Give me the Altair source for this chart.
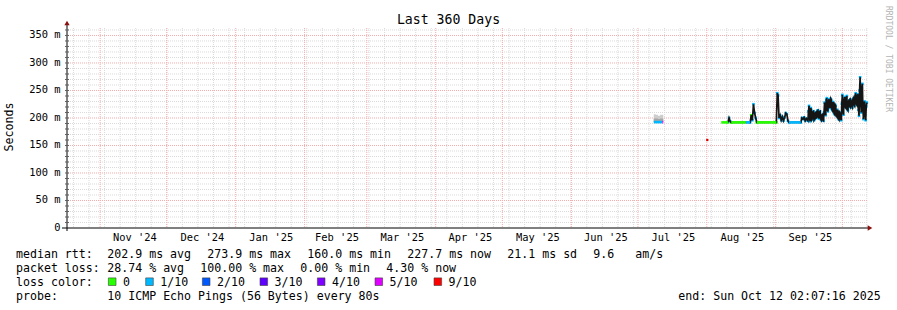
import altair as alt
import pandas as pd

FONT = "DejaVu Sans Mono"

# ---------------- data ----------------
t_start = "2024-10-17 02:07:16"
t_end = "2025-10-12 02:07:16"

month_starts = ["2024-11-01", "2024-12-01", "2025-01-01", "2025-02-01", "2025-03-01", "2025-04-01",
                "2025-05-01", "2025-06-01", "2025-07-01", "2025-08-01", "2025-09-01", "2025-10-01"]
month_labels = ["Nov '24", "Dec '24", "Jan '25", "Feb '25", "Mar '25", "Apr '25",
                "May '25", "Jun '25", "Jul '25", "Aug '25", "Sep '25"]
month_label_at = ["2024-11-16 14:00", "2024-12-17 00:00", "2025-01-17 00:00", "2025-02-15 14:00",
                  "2025-03-17 00:00", "2025-04-16 14:00", "2025-05-17 00:00", "2025-06-16 14:00",
                  "2025-07-17 00:00", "2025-08-17 00:00", "2025-09-16 14:00"]

ytick_values = [0, 50, 100, 150, 200, 250, 300, 350]
ytick_labels = ["0", "50 m", "100 m", "150 m", "200 m", "250 m", "300 m", "350 m"]

loss_names = ["0", "1/10", "2/10", "3/10", "4/10", "5/10", "9/10"]
loss_colors = ["#26ff00", "#00b8ff", "#0059ff", "#5e00ff", "#7e00ff", "#dd00ff", "#ff0000"]

# smoke (first cluster, early July)
smoke_time = ["2025-07-08 03:00", "2025-07-09 00:00", "2025-07-10 00:00", "2025-07-11 00:00", "2025-07-12 10:00"]
smoke_low = [192.5, 192.5, 192.5, 192.5, 192.5]
smoke_mid = [199, 199, 198, 199, 198]
smoke_high = [207, 206, 204, 206, 205]

# flat median segments (ms) with loss colour
flat_start = ["2025-07-08 03:00", "2025-07-12 00:00", "2025-08-07 12:00", "2025-08-12 00:00",
              "2025-08-18 14:00", "2025-08-23 12:00", "2025-09-07 00:00"]
flat_end = ["2025-07-12 00:00", "2025-07-12 10:00", "2025-08-10 12:00", "2025-08-18 14:00",
            "2025-08-20 12:00", "2025-09-01 07:00", "2025-09-12 07:00"]
flat_value = [192.5, 192.5, 192, 192, 192, 192, 192]
flat_loss = ["1/10", "5/10", "0", "0", "1/10", "0", "1/10"]

# median rtt samples (ms) with loss — sparse part (August / early September)
early_time = [
    "2025-08-10 12:00", "2025-08-11 00:00", "2025-08-11 12:00", "2025-08-12 00:00",
    "2025-08-20 12:00", "2025-08-21 00:00", "2025-08-21 12:00", "2025-08-22 00:00",
    "2025-08-22 12:00", "2025-08-23 00:00", "2025-08-23 12:00",
    "2025-09-01 07:00", "2025-09-01 17:00", "2025-09-02 02:00", "2025-09-02 12:00",
    "2025-09-03 00:00", "2025-09-03 12:00", "2025-09-04 00:00", "2025-09-04 12:00",
    "2025-09-05 00:00", "2025-09-05 12:00", "2025-09-06 00:00", "2025-09-06 12:00",
    "2025-09-07 00:00",
    "2025-09-12 07:00", "2025-09-12 19:00", "2025-09-13 07:00", "2025-09-13 19:00",
    "2025-09-14 07:00", "2025-09-14 19:00",
]
early_value = [
    192, 200, 194, 192,
    192, 205, 196, 225, 209, 200, 192,
    192, 245, 241, 200, 205, 196, 202, 195, 201, 209, 207, 195, 192,
    192, 200, 198, 201, 195, 199,
]
early_loss = (["0", "1/10", "1/10", "0"]
              + ["1/10", "0", "1/10", "1/10", "1/10", "1/10", "0"]
              + ["0"] + ["1/10"] * 12
              + ["1/10"] * 6)

# dense part: 6-hourly samples from 2025-09-15 12:00 to 2025-10-12 00:00
dense_first, dense_last = "2025-09-15 12:00", "2025-10-12 00:00"
dense_value = [
    195, 212,                 # Sep 15
    222, 199, 194, 218,       # Sep 16
    215, 197, 199, 211,       # Sep 17
    212, 196, 198, 209,       # Sep 18
    210, 200, 201, 213,       # Sep 19
    214, 202, 199, 211,       # Sep 20
    212, 198, 196, 205,       # Sep 21
    206, 196, 195, 210,       # Sep 22
    228, 207, 205, 233,       # Sep 23
    236, 215, 212, 230,       # Sep 24
    234, 221, 218, 235,       # Sep 25
    233, 216, 214, 229,       # Sep 26
    226, 209, 207, 224,       # Sep 27
    222, 205, 203, 215,       # Sep 28
    212, 199, 197, 210,       # Sep 29
    208, 198, 196, 226,       # Sep 30
    242, 212, 206, 232,       # Oct 1
    238, 221, 219, 237,       # Oct 2
    240, 216, 214, 230,       # Oct 3
    232, 222, 220, 233,       # Oct 4
    231, 221, 219, 234,       # Oct 5
    236, 224, 222, 240,       # Oct 6
    245, 226, 224, 241,       # Oct 7
    243, 215, 204, 250,       # Oct 8
    274, 230, 210, 255,       # Oct 9
    262, 215, 198, 224,       # Oct 10
    230, 205, 196, 221,       # Oct 11
    228,                      # Oct 12
]
dense_loss = ["1/10"] * len(dense_value)

# lone heavy-loss sample
red_time = ["2025-08-01 05:00"]
red_value = [160]

legend_line1 = [(16, "median rtt:"), (107.3, "202.9 ms avg"), (207.3, "273.9 ms max"),
                (307.3, "160.0 ms min"), (407.3, "227.7 ms now"), (507.3, "21.1 ms sd"),
                (593.3, "9.6"), (635.3, "am/s")]
legend_line2 = [(16, "packet loss:"), (107.3, "28.74 % avg"), (200.3, "100.00 % max"),
                (300.3, "0.00 % min"), (386.3, "4.30 % now")]
legend_box_x = [112.2, 149.5, 206.2, 263.8, 321.2, 378.8, 437.8]
legend_line4 = [(16, "probe:"), (107.3, "10 ICMP Echo Pings (56 Bytes) every 80s"),
                (678.3, "end: Sun Oct 12 02:07:16 2025")]


# ---------------- helpers ----------------
def ms(lst):
    return [int(pd.Timestamp(s).value // 10**6) for s in lst]


T0, T1 = ms([t_start, t_end])
L, TOP = 67, 28          # plot origin in page pixels
W, H = 800, 200
YMAX = 363.6


def X(f):
    return alt.X(f, type="temporal", scale=alt.Scale(domain=[T0, T1]), axis=None)


def Y(f):
    return alt.Y(f, type="quantitative", scale=alt.Scale(domain=[0, YMAX], nice=False, zero=False), axis=None)


COLOR = alt.Color("loss:N", scale=alt.Scale(domain=loss_names, range=loss_colors), legend=None)
dummy = pd.DataFrame({"a": [0]})


def txt(ax, ay, s, size=11.6, align="left", color="#000000", angle=0, font=FONT):
    kw = dict(text=s, font=font, fontSize=size, align=align, baseline="middle", color=color)
    if angle:
        kw["angle"] = angle
    return alt.Chart(dummy).mark_text(**kw).encode(x=alt.value(ax - L), y=alt.value(ay - TOP))


layers = []

# grid
minor_y = [v for v in range(10, 361, 10) if v % 50 != 0]
major_y = [v for v in range(50, 361, 50)]
weeks = [str(d) for d in pd.date_range("2024-10-20", "2025-10-12", freq="7D")]
GRID = "#dadada"
MGRID = "#f4acac"
layers.append(alt.Chart(pd.DataFrame({"v": minor_y})).mark_rule(color=GRID, strokeDash=[1, 1], strokeWidth=1).encode(y=Y("v")))
layers.append(alt.Chart(pd.DataFrame({"t": ms(weeks)})).mark_rule(color=GRID, strokeDash=[1, 1], strokeWidth=1).encode(x=X("t")))
layers.append(alt.Chart(pd.DataFrame({"v": major_y})).mark_rule(color=MGRID, strokeDash=[1, 1], strokeWidth=1).encode(y=Y("v")))
layers.append(alt.Chart(pd.DataFrame({"t": ms(month_starts)})).mark_rule(color=MGRID, strokeDash=[1, 1], strokeWidth=1).encode(x=X("t")))

# smoke
sdf = pd.DataFrame({"t": ms(smoke_time), "lo": smoke_low, "mid": smoke_mid, "hi": smoke_high})
layers.append(alt.Chart(sdf).mark_area(color="#cdcdcd", interpolate="step-after").encode(x=X("t"), y=Y("hi"), y2=alt.Y2("lo")))
layers.append(alt.Chart(sdf).mark_area(color="#a6a6a6", interpolate="step-after").encode(x=X("t"), y=Y("mid"), y2=alt.Y2("lo")))

# median samples
dense_time = [str(d) for d in pd.date_range(dense_first, dense_last, freq="6h")]
ser = pd.DataFrame({"t": ms(early_time) + ms(dense_time),
                    "v": early_value + dense_value,
                    "loss": early_loss + dense_loss})
layers.append(alt.Chart(ser).mark_square(size=7, opacity=1).encode(x=X("t"), y=Y("v"), color=COLOR))
layers.append(alt.Chart(ser).mark_line(color="#151515", strokeWidth=1.7).encode(x=X("t"), y=Y("v")))

# flat colored median segments
fdf = pd.DataFrame({"t": ms(flat_start), "t2": ms(flat_end), "v": flat_value, "loss": flat_loss})
layers.append(alt.Chart(fdf).mark_rule(strokeWidth=2.6).encode(x=X("t"), x2=alt.X2("t2"), y=Y("v"), color=COLOR))

# red sample
rdf = pd.DataFrame({"t": ms(red_time), "v": red_value})
layers.append(alt.Chart(rdf).mark_square(size=5, color="#e00000", opacity=1).encode(x=X("t"), y=Y("v")))

# axes
layers.append(alt.Chart(dummy).mark_rule(color="#000000", strokeWidth=1).encode(
    x=alt.value(-5), x2=alt.value(W + 1), y=alt.value(H)))
layers.append(alt.Chart(dummy).mark_rule(color="#000000", strokeWidth=1).encode(
    x=alt.value(0), y=alt.value(H + 3), y2=alt.value(-4)))
minor_ticks = [v for v in range(10, 361, 10)]
layers.append(alt.Chart(pd.DataFrame({"v": minor_ticks})).mark_rule(color="#606060", strokeWidth=1).encode(
    x=alt.value(-2), x2=alt.value(2), y=Y("v")))
layers.append(alt.Chart(dummy).mark_point(shape="triangle-up", size=28, filled=True, color="#8b1010", opacity=1).encode(
    x=alt.value(0), y=alt.value(-5)))
layers.append(alt.Chart(dummy).mark_point(shape="triangle-right", size=28, filled=True, color="#8b1010", opacity=1).encode(
    x=alt.value(W + 3), y=alt.value(H)))

# y tick labels
layers.append(alt.Chart(pd.DataFrame({"v": ytick_values, "lab": ytick_labels})).mark_text(
    font=FONT, fontSize=10.4, align="right", baseline="middle", color="#000000").encode(
    y=Y("v"), x=alt.value(-6.5), text="lab:N"))

# month labels
layers.append(alt.Chart(pd.DataFrame({"t": ms(month_label_at), "lab": month_labels})).mark_text(
    font=FONT, fontSize=10.4, align="center", baseline="middle", color="#000000").encode(
    x=X("t"), y=alt.value(238 - TOP), text="lab:N"))

# title, y title, watermark
layers.append(txt(448.5, 20, "Last 360 Days", size=13.2, align="center"))
layers.append(txt(10, 127, "Seconds", size=11.6, align="center", angle=270))
layers.append(txt(888, 59, "RRDTOOL / TOBI OETIKER", size=8, align="center", color="#b4b4b4", angle=90))

# legend
for x0, s in legend_line1:
    layers.append(txt(x0, 254.5, s))
for x0, s in legend_line2:
    layers.append(txt(x0, 268.5, s))
layers.append(txt(16, 282.5, "loss color:"))
for bx, name, col in zip(legend_box_x, loss_names, loss_colors):
    layers.append(alt.Chart(dummy).mark_rect(color=col, opacity=1, stroke="#404040", strokeWidth=0.6).encode(
        x=alt.value(bx - L - 3.8), x2=alt.value(bx - L + 3.8),
        y=alt.value(281.7 - TOP - 3.8), y2=alt.value(281.7 - TOP + 3.8)))
    layers.append(txt(bx + 10.8, 282.5, name))
for x0, s in legend_line4:
    layers.append(txt(x0, 296.5, s))

chart = alt.layer(*layers).properties(
    width=W, height=H,
    padding={"left": L, "top": TOP, "right": 897 - L - W, "bottom": 310 - TOP - H},
    autosize=alt.AutoSizeParams(type="none"),
    background="#ffffff",
).configure_view(strokeWidth=0)

chart.save("out.html", embed_options={"renderer": "svg", "actions": False})
